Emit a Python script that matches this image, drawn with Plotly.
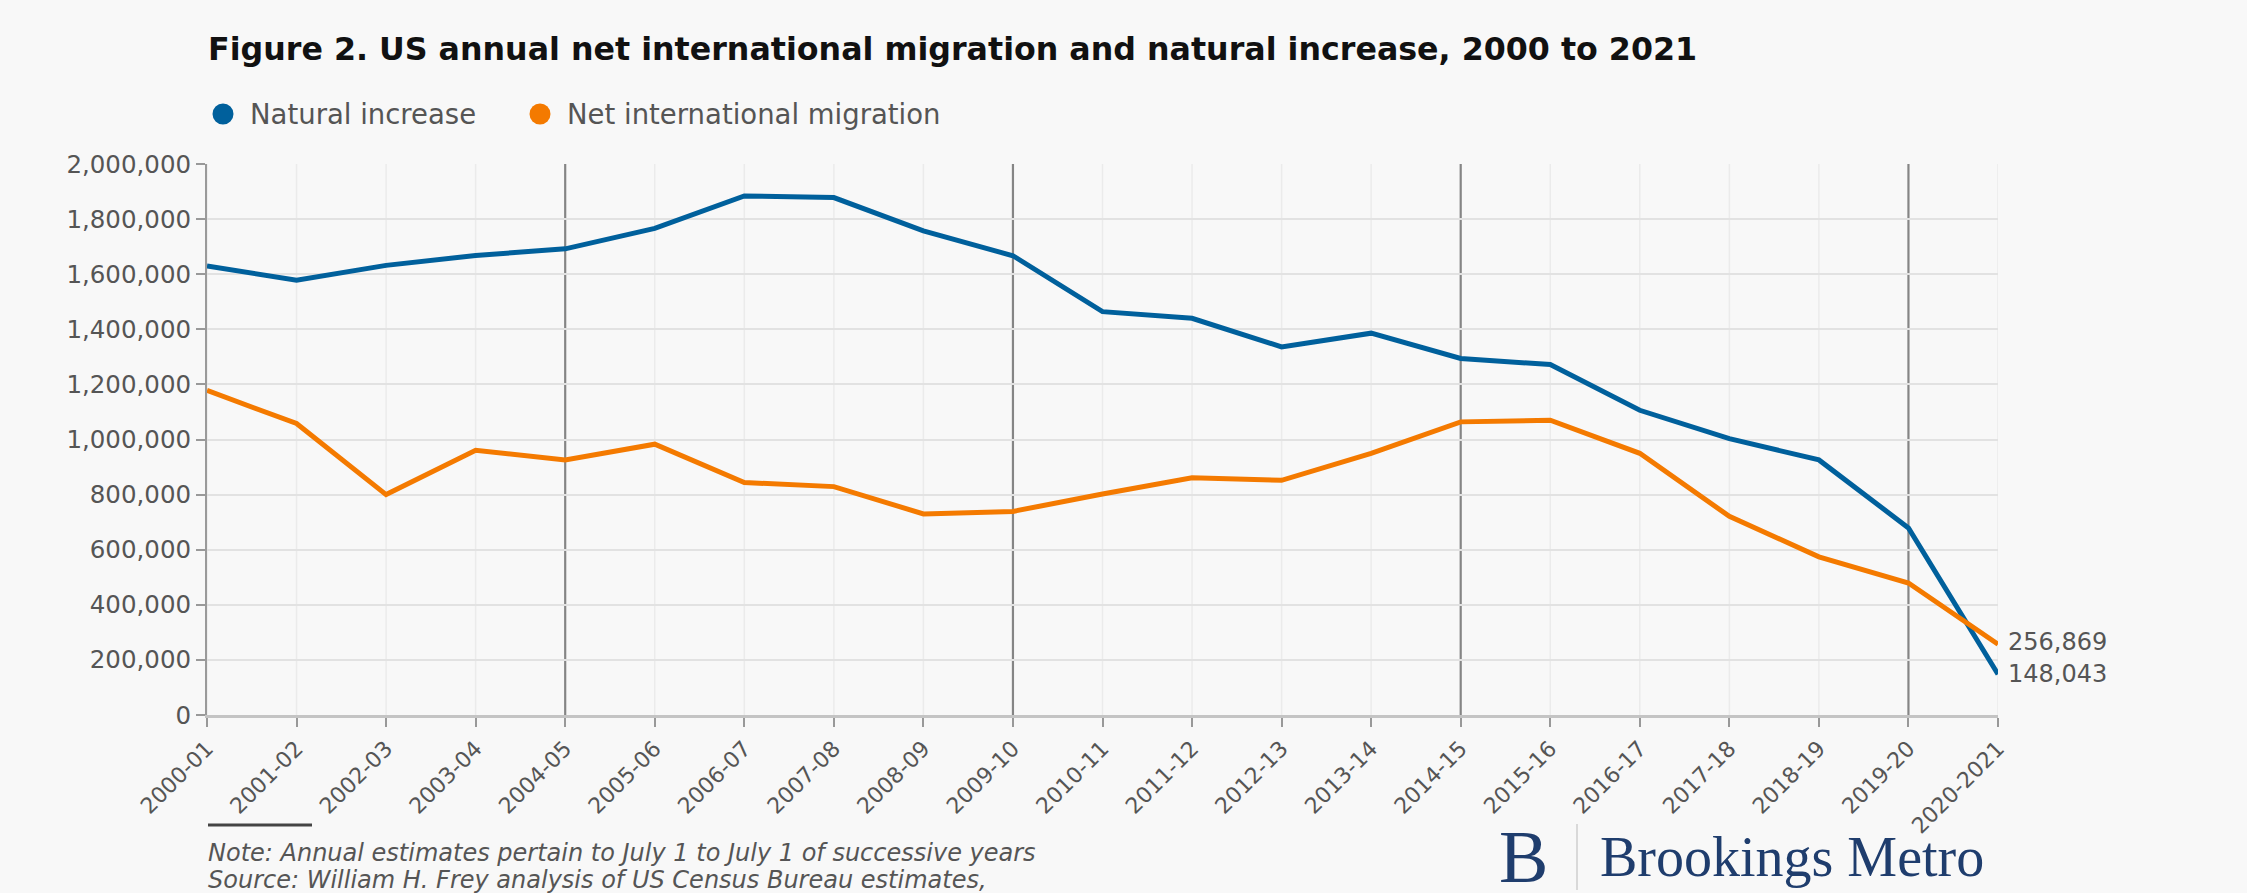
import plotly.graph_objects as go

periods = ["2000-01", "2001-02", "2002-03", "2003-04", "2004-05", "2005-06", "2006-07",
           "2007-08", "2008-09", "2009-10", "2010-11", "2011-12", "2012-13", "2013-14",
           "2014-15", "2015-16", "2016-17", "2017-18", "2018-19", "2019-20", "2020-2021"]
natural_increase = [1630000, 1578000, 1632000, 1668000, 1692000, 1766000, 1884000,
                    1878000, 1757000, 1667000, 1464000, 1440000, 1336000, 1386000,
                    1294000, 1272000, 1106000, 1003000, 926000, 679000, 148043]
net_migration = [1178000, 1058000, 800000, 961000, 926000, 983000, 844000,
                 829000, 730000, 739000, 802000, 861000, 852000, 950000,
                 1064000, 1070000, 950000, 721000, 574000, 479000, 256869]
major_periods = ["2004-05", "2009-10", "2014-15", "2019-20"]
y_ticks = list(range(0, 2000001, 200000))
series_names = ["Natural increase", "Net international migration"]

BLUE = "#00609c"
ORANGE = "#f47a00"
TXT = "#555555"
BG = "#f8f8f8"
NAVY = "#1f3d6d"

W, H = 2247, 893
L, R, T, B = 207, 249, 164, 178
PW, PH = W - L - R, H - T - B


def px(xp):
    return (xp - L) / PW


def py(yp):
    return (H - B - yp) / PH


fig = go.Figure()
fig.add_trace(go.Scatter(x=periods, y=natural_increase, mode="lines",
                         line=dict(color=BLUE, width=5), showlegend=False,
                         name=series_names[0]))
fig.add_trace(go.Scatter(x=periods, y=net_migration, mode="lines",
                         line=dict(color=ORANGE, width=5), showlegend=False,
                         name=series_names[1]))

# vertical grid: light for each period, dark every fifth period
for p in periods:
    major = p in major_periods
    fig.add_shape(type="line", xref="x", yref="paper", x0=p, x1=p, y0=0, y1=1,
                  line=dict(color="#858585" if major else "#ebebeb", width=2.2 if major else 1.5),
                  layer="below")

# legend (drawn manually)
for cx, tx, col, name in [(223, 248, BLUE, series_names[0]), (540, 565, ORANGE, series_names[1])]:
    fig.add_shape(type="circle", xref="paper", yref="paper", xsizemode="pixel", ysizemode="pixel",
                  xanchor=px(cx), yanchor=py(114), x0=-10.5, x1=10.5, y0=-10.5, y1=10.5,
                  fillcolor=col, line=dict(width=0))
    fig.add_annotation(xref="paper", yref="paper", x=px(tx), y=py(114), xanchor="left",
                       yanchor="middle", text=name, showarrow=False,
                       font=dict(family="DejaVu Sans", size=27.5, color=TXT))

# end labels
fig.add_annotation(x=periods[-1], y=net_migration[-1], text=f"{net_migration[-1]:,}",
                   showarrow=False, xanchor="left", xshift=8, yshift=2,
                   font=dict(family="DejaVu Sans", size=24, color=TXT))
fig.add_annotation(x=periods[-1], y=natural_increase[-1], text=f"{natural_increase[-1]:,}",
                   showarrow=False, xanchor="left", xshift=8, yshift=0,
                   font=dict(family="DejaVu Sans", size=24, color=TXT))

# title
fig.add_annotation(xref="paper", yref="paper", x=px(206), y=py(49), xanchor="left", yanchor="middle",
                   text="<b>Figure 2. US annual net international migration and natural increase, 2000 to 2021</b>",
                   showarrow=False, font=dict(family="DejaVu Sans", size=31.7, color="#111111"))

# footer
fig.add_shape(type="line", xref="paper", yref="paper", x0=px(208), x1=px(312), y0=py(825), y1=py(825),
              line=dict(color="#444", width=3))
fig.add_annotation(xref="paper", yref="paper", x=px(206), y=py(853), xanchor="left", yanchor="middle",
                   text="<i>Note: Annual estimates pertain to July 1 to July 1 of successive years</i>",
                   showarrow=False, font=dict(family="DejaVu Sans", size=24, color=TXT))
fig.add_annotation(xref="paper", yref="paper", x=px(206), y=py(880), xanchor="left", yanchor="middle",
                   text="<i>Source: William H. Frey analysis of US Census Bureau estimates,</i>",
                   showarrow=False, font=dict(family="DejaVu Sans", size=24, color=TXT))
# logo
fig.add_annotation(xref="paper", yref="paper", x=px(1497), y=py(857), xanchor="left", yanchor="middle",
                   text="B", showarrow=False,
                   font=dict(family="Liberation Serif", size=74, color=NAVY))
fig.add_shape(type="line", xref="paper", yref="paper", x0=px(1577), x1=px(1577), y0=py(824), y1=py(890),
              line=dict(color="#cfcfcf", width=1.5))
fig.add_annotation(xref="paper", yref="paper", x=px(1598), y=py(857), xanchor="left", yanchor="middle",
                   text="Brookings Metro", showarrow=False,
                   font=dict(family="Liberation Serif", size=56, color=NAVY))

fig.update_layout(
    width=W, height=H,
    paper_bgcolor=BG, plot_bgcolor=BG,
    margin=dict(l=L, r=R, t=T, b=B),
    showlegend=False,
    xaxis=dict(type="category", categoryorder="array", categoryarray=periods,
               range=[0, len(periods) - 1], tickangle=-45, automargin=False,
               ticks="outside", ticklen=9, tickcolor="#999", tickwidth=2,
               showline=True, linecolor="#c4c4c4", linewidth=3,
               showgrid=False,
               tickfont=dict(family="DejaVu Sans", size=22, color=TXT), zeroline=False),
    yaxis=dict(range=[0, 2000000], tickvals=y_ticks, tickformat=",", automargin=False,
               ticks="outside", ticklen=9, tickcolor="#999", tickwidth=2,
               showline=True, linecolor="#9a9a9a", linewidth=2,
               showgrid=True, gridcolor="#e2e2e2", gridwidth=2, zeroline=False,
               tickfont=dict(family="DejaVu Sans", size=24.5, color=TXT)),
)

fig.write_html("out.html", config={"displayModeBar": False},
               post_script="document.body.style.margin='0';document.body.style.background='#f8f8f8';"
                           "document.documentElement.style.overflow='hidden';")
